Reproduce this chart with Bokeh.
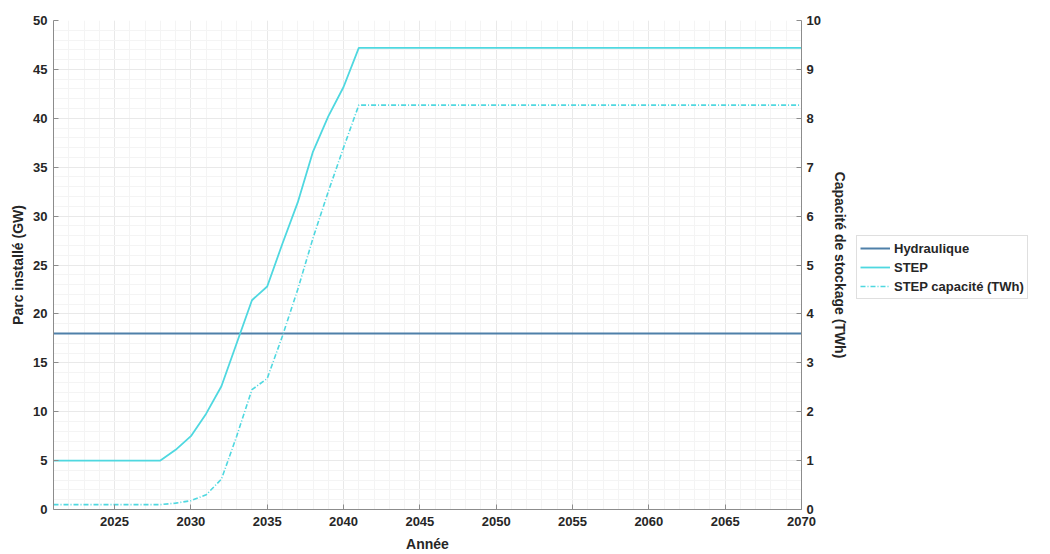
from bokeh.plotting import figure
from bokeh.layouts import row
from bokeh.models import Range1d, LinearAxis, Legend, LegendItem, FixedTicker, ColumnDataSource
from bokeh.embed import file_html
from bokeh.resources import INLINE

years = [2021, 2022, 2023, 2024, 2025, 2026, 2027, 2028, 2029, 2030, 2031, 2032, 2033,
         2034, 2035, 2036, 2037, 2038, 2039, 2040, 2041, 2070]
hydraulique = [18.0] * len(years)
step_gw = [5.0, 5.0, 5.0, 5.0, 5.0, 5.0, 5.0, 5.0, 6.1, 7.5, 9.8, 12.6, 17.0,
           21.4, 22.8, 27.2, 31.4, 36.6, 40.2, 43.2, 47.2, 47.2]
step_twh = [0.1, 0.1, 0.1, 0.1, 0.1, 0.1, 0.1, 0.1, 0.13, 0.18, 0.3, 0.62, 1.5,
            2.45, 2.68, 3.55, 4.5, 5.55, 6.5, 7.4, 8.27, 8.27]
series_names = ["Hydraulique", "STEP", "STEP capacité (TWh)"]

x_ticks = [2025, 2030, 2035, 2040, 2045, 2050, 2055, 2060, 2065, 2070]
left_ticks = [0, 5, 10, 15, 20, 25, 30, 35, 40, 45, 50]
right_ticks = [0, 1, 2, 3, 4, 5, 6, 7, 8, 9, 10]

FONT = "Liberation Sans"
TXT = "#262626"
C_HYD = "#4f80a9"
C_STEP = "#4fd8e0"
DASH = "5 2 1 2"

src = ColumnDataSource(dict(x=years, h=hydraulique, s=step_gw, c=step_twh))

p = figure(width=850, height=554, output_backend="svg", toolbar_location=None,
           x_range=Range1d(2021, 2070), y_range=Range1d(0, 50),
           min_border_left=53, min_border_right=47, min_border_top=20, min_border_bottom=44)
p.extra_y_ranges = {"cap": Range1d(0, 10)}
p.outline_line_alpha = 0.0

p.line("x", "h", source=src, line_color=C_HYD, line_width=2)
p.line("x", "s", source=src, line_color=C_STEP, line_width=1.8)
p.line("x", "c", source=src, line_color=C_STEP, line_width=1.6,
       line_dash=DASH, y_range_name="cap")

p.xaxis.ticker = FixedTicker(ticks=x_ticks, minor_ticks=list(range(2021, 2071)))
p.yaxis.ticker = FixedTicker(ticks=left_ticks, minor_ticks=list(range(0, 51)))
p.xaxis.axis_label = "Année"
p.yaxis.axis_label = "Parc installé (GW)"

right = LinearAxis(y_range_name="cap", axis_label="Capacité de stockage (TWh)",
                   ticker=FixedTicker(ticks=right_ticks))
p.add_layout(right, "right")

for ax in [p.xaxis[0], p.yaxis[0], right]:
    ax.axis_line_color = "#8c8c8c"
    ax.major_tick_line_color = "#8c8c8c"
    ax.major_tick_in = 5
    ax.major_tick_out = 0
    ax.minor_tick_in = 0
    ax.minor_tick_out = 0
    ax.major_label_text_font = FONT
    ax.major_label_text_font_style = "bold"
    ax.major_label_text_font_size = "13px"
    ax.major_label_text_color = TXT
    ax.axis_label_text_font = FONT
    ax.axis_label_text_font_style = "bold"
    ax.axis_label_text_font_size = "14px"
    ax.axis_label_text_color = TXT

p.xaxis.major_label_standoff = 7
p.xaxis.axis_label_standoff = 7
p.yaxis.major_label_standoff = 6
p.yaxis.axis_label_standoff = 4
right.major_label_standoff = 5
right.axis_label_standoff = 8

p.xgrid.grid_line_color = "#e9e9e9"
p.ygrid.grid_line_color = "#e9e9e9"
p.xgrid.minor_grid_line_color = "#f4f4f4"
p.ygrid.minor_grid_line_color = "#f4f4f4"

# legend panel to the right of the plot: the same series drawn outside its view,
# only their legend entries are visible
lf = figure(width=200, height=554, output_backend="svg", toolbar_location=None,
            x_range=Range1d(0, 1), y_range=Range1d(0, 1),
            x_axis_type=None, y_axis_type=None, min_border=0)
lf.outline_line_alpha = 0.0
lf.xgrid.visible = False
lf.ygrid.visible = False
k1 = lf.line("x", "h", source=src, line_color=C_HYD, line_width=2)
k2 = lf.line("x", "s", source=src, line_color=C_STEP, line_width=1.8)
k3 = lf.line("x", "c", source=src, line_color=C_STEP, line_width=1.6, line_dash=DASH)

legend = Legend(items=[LegendItem(label=series_names[0], renderers=[k1]),
                       LegendItem(label=series_names[1], renderers=[k2]),
                       LegendItem(label=series_names[2], renderers=[k3])],
                location=(6, 210))
legend.label_text_font = FONT
legend.label_text_font_style = "bold"
legend.label_text_font_size = "13px"
legend.label_text_color = TXT
legend.border_line_color = "#bfbfbf"
legend.padding = 3
legend.spacing = 1
legend.glyph_width = 30
legend.glyph_height = 18
legend.label_height = 18
legend.label_standoff = 4
legend.margin = 0
lf.add_layout(legend, "center")

layout = row(p, lf, spacing=0)
open("out.html", "w").write(file_html(layout, INLINE))
